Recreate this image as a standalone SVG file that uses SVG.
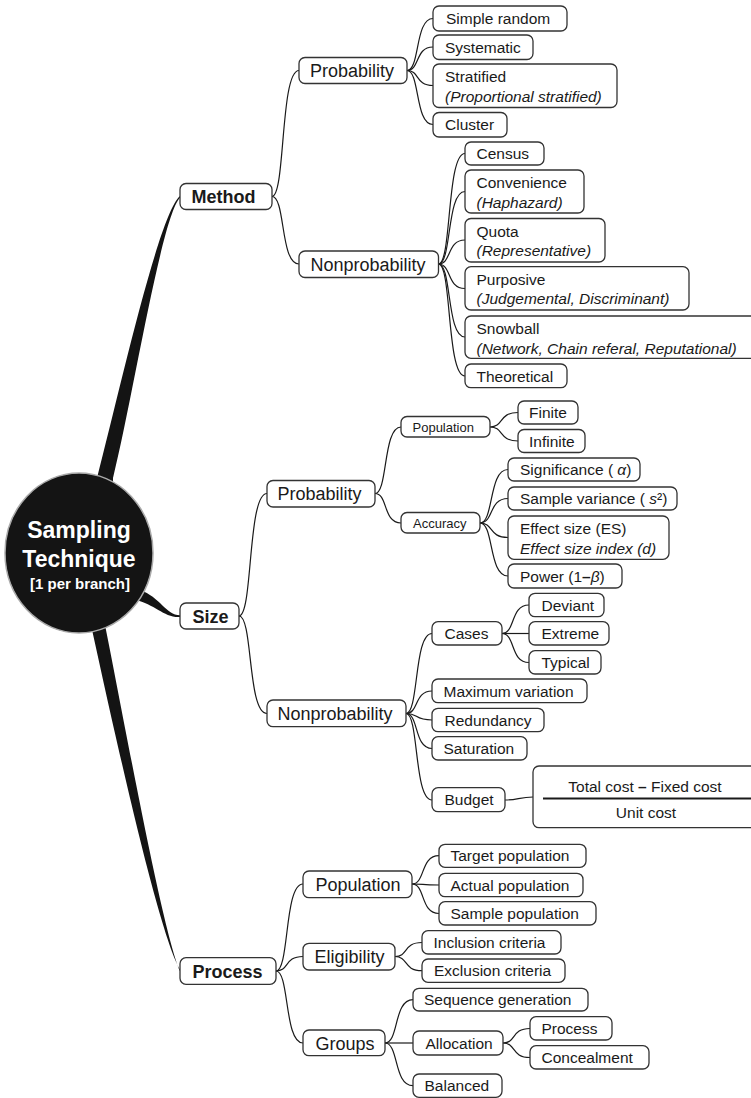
<svg xmlns="http://www.w3.org/2000/svg" width="751" height="1098" viewBox="0 0 751 1098">
<style>
text{font-family:"Liberation Sans",Arial,sans-serif;fill:#1a1a1a}
.b{fill:#fff;stroke:#333;stroke-width:1.3}
.t1{font-size:18px;font-weight:bold}
.t2{font-size:18px}
.t3{font-size:15.5px}
.ts{font-size:13px}
.it{font-style:italic}
.c{fill:none;stroke:#1a1a1a;stroke-width:1.2}
.br{fill:#141414}
.ct{fill:#fff;font-weight:bold;text-anchor:middle}
</style>
<rect width="751" height="1098" fill="#fff"/>
<g id="connectors">
<path class="br" d="M97 485 L97 478 C117.5 400 158.5 214 180 196 L180 197.8 C161.5 216.5 132.5 400 113 478 L113 485 Z"/>
<path class="br" d="M91 622 L91 625 C114 730 158 931 180 969.5 L180 971.2 C162 929 126 730 105 625 L105 622 Z"/>
<path class="br" d="M136 588 L140 590 C160 597 166 615 180 615.3 L180 617 C164 618 155 604 135 600 L132 596 Z"/>
<path class="c" d="M272 196.5 C285.5 196.5 280.1 70.5 299 70.5"/>
<path class="c" d="M272 196.5 C285.5 196.5 280.1 264 299 264"/>
<path class="c" d="M407 70.5 C420 70.5 414.8 18.5 433 18.5"/>
<path class="c" d="M407 70.5 C420 70.5 414.8 47 433 47"/>
<path class="c" d="M407 70.5 C420 70.5 414.8 85.5 433 85.5"/>
<path class="c" d="M407 70.5 C420 70.5 414.8 124.5 433 124.5"/>
<path class="c" d="M438.5 264 C451.8 264 446.5 153.5 465 153.5"/>
<path class="c" d="M438.5 264 C451.8 264 446.5 191.5 465 191.5"/>
<path class="c" d="M438.5 264 C451.8 264 446.5 240 465 240"/>
<path class="c" d="M438.5 264 C451.8 264 446.5 288.5 465 288.5"/>
<path class="c" d="M438.5 264 C451.8 264 446.5 337 465 337"/>
<path class="c" d="M438.5 264 C451.8 264 446.5 376 465 376"/>
<path class="c" d="M239 616 C253 616 247.4 493.5 267 493.5"/>
<path class="c" d="M239 616 C253 616 247.4 713.5 267 713.5"/>
<path class="c" d="M375 493.5 C388 493.5 382.8 427 401 427"/>
<path class="c" d="M375 493.5 C388 493.5 382.8 523 401 523"/>
<path class="c" d="M490 427 C504 427 498.4 412.5 518 412.5"/>
<path class="c" d="M490 427 C504 427 498.4 441 518 441"/>
<path class="c" d="M480 523 C494 523 488.4 469.5 508 469.5"/>
<path class="c" d="M480 523 C494 523 488.4 498.5 508 498.5"/>
<path class="c" d="M480 523 C494 523 488.4 537.5 508 537.5"/>
<path class="c" d="M480 523 C494 523 488.4 576 508 576"/>
<path class="c" d="M406 713.5 C419 713.5 413.8 633.5 432 633.5"/>
<path class="c" d="M406 713.5 C419 713.5 413.8 691 432 691"/>
<path class="c" d="M406 713.5 C419 713.5 413.8 720 432 720"/>
<path class="c" d="M406 713.5 C419 713.5 413.8 748.5 432 748.5"/>
<path class="c" d="M406 713.5 C419 713.5 413.8 800 432 800"/>
<path class="c" d="M502 633.5 C515.5 633.5 510.1 605 529 605"/>
<path class="c" d="M502 633.5 C515.5 633.5 510.1 633.5 529 633.5"/>
<path class="c" d="M502 633.5 C515.5 633.5 510.1 662.5 529 662.5"/>
<path class="c" d="M505 800 C517 800 520 797 533 797"/>
<path class="c" d="M276 971 C289.5 971 284.1 884 303 884"/>
<path class="c" d="M276 971 C289.5 971 284.1 956.5 303 956.5"/>
<path class="c" d="M276 971 C289.5 971 284.1 1043 303 1043"/>
<path class="c" d="M412 884 C425.5 884 420.1 855.7 439 855.7"/>
<path class="c" d="M412 884 C425.5 884 420.1 885 439 885"/>
<path class="c" d="M412 884 C425.5 884 420.1 913.5 439 913.5"/>
<path class="c" d="M395 956.5 C408.5 956.5 403.1 942.5 422 942.5"/>
<path class="c" d="M395 956.5 C408.5 956.5 403.1 970.7 422 970.7"/>
<path class="c" d="M385 1043 C399 1043 393.4 999.7 413 999.7"/>
<path class="c" d="M385 1043 C399 1043 393.4 1043 413 1043"/>
<path class="c" d="M385 1043 C399 1043 393.4 1085.7 413 1085.7"/>
<path class="c" d="M503 1043 C516.5 1043 511.1 1028.5 530 1028.5"/>
<path class="c" d="M503 1043 C516.5 1043 511.1 1057.5 530 1057.5"/>
</g>
<g id="root">
<ellipse cx="79" cy="553" rx="74" ry="80" fill="#141414" stroke="#aaa" stroke-width="1.5"/>
<text class="ct" x="79" y="538" font-size="23">Sampling</text>
<text class="ct" x="79" y="567" font-size="23">Technique</text>
<text class="ct" x="80" y="588.5" font-size="15">[1 per branch]</text>
</g>
<g id="method"><rect class="b" x="180" y="183.5" width="92" height="26" rx="6"/><text class="t1" x="191.5" y="203">Method</text></g>
<g id="m-prob"><rect class="b" x="299" y="57.5" width="108" height="26" rx="6"/><text class="t2" x="310" y="77">Probability</text></g>
<g id="m-simple"><rect class="b" x="433" y="6" width="134" height="25" rx="6"/><text class="t3" x="446" y="24.2">Simple random</text></g>
<g id="m-systematic"><rect class="b" x="433" y="35" width="100" height="24.5" rx="6"/><text class="t3" x="445" y="52.8">Systematic</text></g>
<g id="m-stratified"><rect class="b" x="433" y="64" width="184" height="43.5" rx="6"/><text class="t3" x="445" y="82.3">Stratified</text><text class="t3 it" x="445" y="101.7">(Proportional stratified)</text></g>
<g id="m-cluster"><rect class="b" x="433" y="112.5" width="74" height="24.5" rx="6"/><text class="t3" x="445" y="130.2">Cluster</text></g>
<g id="m-nonprob"><rect class="b" x="299" y="251" width="139.5" height="26.5" rx="6"/><text class="t2" x="310.5" y="270.7">Nonprobability</text></g>
<g id="m-census"><rect class="b" x="465" y="142" width="79" height="23" rx="6"/><text class="t3" x="476.5" y="159.3">Census</text></g>
<g id="m-convenience"><rect class="b" x="465" y="170" width="119" height="43" rx="6"/><text class="t3" x="476.5" y="188.3">Convenience</text><text class="t3 it" x="476.5" y="207.7">(Haphazard)</text></g>
<g id="m-quota"><rect class="b" x="465" y="218.5" width="140" height="43.5" rx="6"/><text class="t3" x="476.5" y="236.8">Quota</text><text class="t3 it" x="476.5" y="256.2">(Representative)</text></g>
<g id="m-purposive"><rect class="b" x="465" y="266.7" width="224" height="43.3" rx="6"/><text class="t3" x="476.5" y="285">Purposive</text><text class="t3 it" x="476.5" y="304.4">(Judgemental, Discriminant)</text></g>
<g id="m-snowball"><rect class="b" x="465" y="316" width="300" height="42.3" rx="6"/><text class="t3" x="476.5" y="334.3">Snowball</text><text class="t3 it" x="476.5" y="353.5">(Network, Chain referal, Reputational)</text></g>
<g id="m-theoretical"><rect class="b" x="465" y="364" width="102" height="23.7" rx="6"/><text class="t3" x="476.5" y="381.6">Theoretical</text></g>
<g id="size"><rect class="b" x="180" y="603" width="59" height="26" rx="6"/><text class="t1" x="192.5" y="622.5">Size</text></g>
<g id="s-prob"><rect class="b" x="267" y="480.5" width="108" height="26.5" rx="6"/><text class="t2" x="277.5" y="500">Probability</text></g>
<g id="s-population"><rect class="b" x="401" y="416.5" width="89" height="20.5" rx="6"/><text class="ts" x="412.5" y="431.7">Population</text></g>
<g id="s-finite"><rect class="b" x="518" y="401" width="60" height="23" rx="6"/><text class="t3" x="529" y="418.1">Finite</text></g>
<g id="s-infinite"><rect class="b" x="518" y="429.5" width="67" height="23" rx="6"/><text class="t3" x="529" y="446.6">Infinite</text></g>
<g id="s-accuracy"><rect class="b" x="401" y="512.5" width="79" height="20.5" rx="6"/><text class="ts" x="413" y="527.7">Accuracy</text></g>
<g id="s-significance"><rect class="b" x="508" y="458" width="132" height="23" rx="6"/><text class="t3" x="520" y="475.1">Significance ( <tspan class="it">α</tspan>)</text></g>
<g id="s-variance"><rect class="b" x="508" y="487" width="169" height="23" rx="6"/><text class="t3" x="520" y="504.1">Sample variance ( <tspan class="it">s</tspan>²)</text></g>
<g id="s-effect"><rect class="b" x="508" y="516" width="161" height="43.3" rx="6"/><text class="t3" x="520" y="534.3">Effect size (ES)</text><text class="t3 it" x="520" y="553.7">Effect size index (d)</text></g>
<g id="s-power"><rect class="b" x="508" y="564" width="114" height="24" rx="6"/><text class="t3" x="520" y="581.6">Power (1<tspan font-weight="bold">–</tspan><tspan class="it">β</tspan>)</text></g>
<g id="s-nonprob"><rect class="b" x="267" y="700" width="139" height="26.7" rx="6"/><text class="t2" x="277.5" y="720">Nonprobability</text></g>
<g id="s-cases"><rect class="b" x="432" y="621.7" width="70" height="23.3" rx="6"/><text class="t3" x="444.5" y="639.1">Cases</text></g>
<g id="s-deviant"><rect class="b" x="529" y="593.3" width="75" height="23.4" rx="6"/><text class="t3" x="541.5" y="610.6">Deviant</text></g>
<g id="s-extreme"><rect class="b" x="529" y="621.7" width="80" height="23.3" rx="6"/><text class="t3" x="541.5" y="639.1">Extreme</text></g>
<g id="s-typical"><rect class="b" x="529" y="650.7" width="72" height="23.3" rx="6"/><text class="t3" x="541.5" y="668.1">Typical</text></g>
<g id="s-maxvar"><rect class="b" x="432" y="679" width="155" height="23.7" rx="6"/><text class="t3" x="443.5" y="696.6">Maximum variation</text></g>
<g id="s-redundancy"><rect class="b" x="432" y="708.3" width="112" height="23.4" rx="6"/><text class="t3" x="444.5" y="725.6">Redundancy</text></g>
<g id="s-saturation"><rect class="b" x="432" y="736.7" width="95" height="23.3" rx="6"/><text class="t3" x="443.5" y="754.1">Saturation</text></g>
<g id="s-budget"><rect class="b" x="432" y="787.7" width="73" height="24" rx="6"/><text class="t3" x="444.5" y="805.3">Budget</text></g>
<g id="s-formula"><rect class="b" x="533" y="766" width="232" height="61.7" rx="6"/><text class="t3" x="645" y="791.5" text-anchor="middle">Total cost <tspan font-weight="bold">–</tspan> Fixed cost</text><line x1="543" y1="798.5" x2="751" y2="798.5" stroke="#1a1a1a" stroke-width="2"/><text class="t3" x="646" y="817.5" text-anchor="middle">Unit cost</text></g>
<g id="process"><rect class="b" x="180" y="957.7" width="96" height="26.6" rx="6"/><text class="t1" x="192.5" y="977.5">Process</text></g>
<g id="p-population"><rect class="b" x="303" y="871" width="109" height="26.7" rx="6"/><text class="t2" x="315.5" y="890.5">Population</text></g>
<g id="p-target"><rect class="b" x="439" y="844.3" width="147" height="23" rx="6"/><text class="t3" x="450.5" y="861.3">Target population</text></g>
<g id="p-actual"><rect class="b" x="439" y="873.3" width="144" height="23.4" rx="6"/><text class="t3" x="450.5" y="890.6">Actual population</text></g>
<g id="p-sample"><rect class="b" x="439" y="901.7" width="157" height="23.3" rx="6"/><text class="t3" x="450.5" y="919.1">Sample population</text></g>
<g id="p-eligibility"><rect class="b" x="303" y="943.3" width="92" height="26.7" rx="6"/><text class="t2" x="314.5" y="963">Eligibility</text></g>
<g id="p-inclusion"><rect class="b" x="422" y="930.7" width="139" height="23.3" rx="6"/><text class="t3" x="433.5" y="948.1">Inclusion criteria</text></g>
<g id="p-exclusion"><rect class="b" x="422" y="959" width="143" height="23.3" rx="6"/><text class="t3" x="434" y="976.3">Exclusion criteria</text></g>
<g id="p-groups"><rect class="b" x="303" y="1030" width="82" height="25.7" rx="6"/><text class="t2" x="315.5" y="1049.5">Groups</text></g>
<g id="p-seqgen"><rect class="b" x="413" y="988.3" width="175" height="22.7" rx="6"/><text class="t3" x="424" y="1005.3">Sequence generation</text></g>
<g id="p-allocation"><rect class="b" x="413" y="1031" width="90" height="24" rx="6"/><text class="t3" x="425.5" y="1048.6">Allocation</text></g>
<g id="p-process"><rect class="b" x="530" y="1016.7" width="82" height="23.3" rx="6"/><text class="t3" x="541.5" y="1034.1">Process</text></g>
<g id="p-concealment"><rect class="b" x="530" y="1045.7" width="119" height="23.3" rx="6"/><text class="t3" x="541.5" y="1063.1">Concealment</text></g>
<g id="p-balanced"><rect class="b" x="413" y="1074" width="89" height="23.3" rx="6"/><text class="t3" x="424.5" y="1091.4">Balanced</text></g>
</svg>
